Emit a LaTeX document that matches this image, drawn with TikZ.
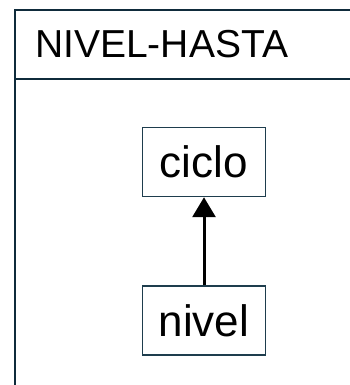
\documentclass[tikz,border=0pt]{standalone}
\usepackage{fontspec}
\setmainfont{Liberation Sans}
\usepackage{xcolor}
\usepackage{tikz}
\usetikzlibrary{positioning,arrows.meta}
\definecolor{framecol}{HTML}{0F2B3B}
\definecolor{boxcol}{HTML}{1E3D4D}

\begin{document}
\begin{tikzpicture}[x=1pt,y=1pt,
	entity/.style={draw=boxcol,line width=1.5pt,minimum width=123pt,
		minimum height=69pt,inner sep=0pt,font=\fontsize{44}{50}\selectfont},
	link/.style={-{Triangle[width=23pt,length=20pt]},line width=3pt}]
	\useasboundingbox (0,0) rectangle (350,385);
	\clip (0,0) rectangle (350,385);
	
	\draw[framecol,line width=2pt] (15,-20) rectangle (380,375);
	\draw[framecol,line width=1.5pt] (15,306)--(380,306);
	\node[anchor=base west,inner sep=0pt,font=\fontsize{39}{46}\selectfont]
		(title) at (35,327) {NIVEL-HASTA};
	
	\node[entity] (ciclo) at (204,223) {ciclo};
	\node[entity,below=88pt of ciclo] (nivel) {nivel};
	\draw[link] (nivel) -- (ciclo);
\end{tikzpicture}
\end{document}
